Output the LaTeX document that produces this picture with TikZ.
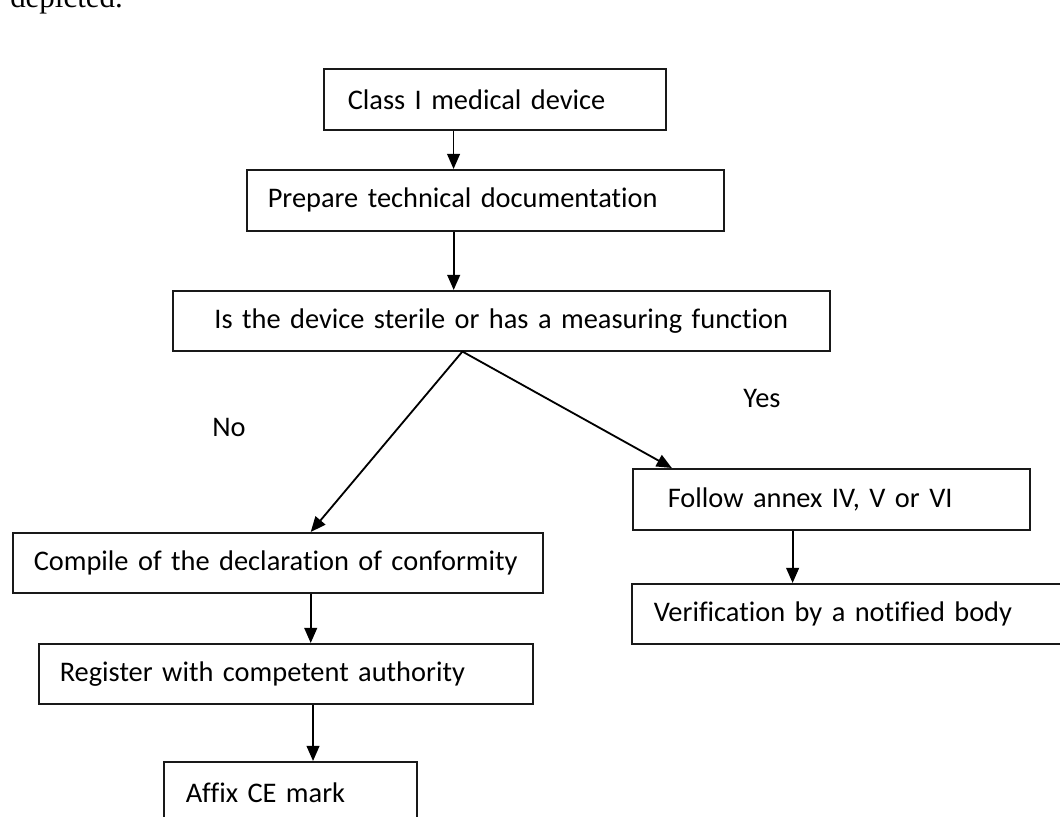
\documentclass[tikz,border=0pt]{standalone}
\usepackage{fontspec}
\setmainfont{Carlito}[Ligatures=NoCommon]
\newfontfamily\pageserif{Liberation Serif}
\usetikzlibrary{arrows.meta,positioning,calc}
\newcommand\boxfont{\fontsize{20.2}{24}\selectfont\hyphenpenalty=10000\relax}

\begin{document}
\begin{tikzpicture}[
  x=1cm, y=1cm,
  stepbox/.style={draw=black!90, line width=1.1pt, anchor=north west, align=left, inner xsep=0.525cm, inner ysep=0pt, minimum height=1.525cm, font=\boxfont},
  flow/.style={-{Triangle[length=0.38cm, width=0.32cm]}, draw=black, line width=1.3pt},
  branch/.style={font=\boxfont}
]
  \useasboundingbox (0,0) rectangle (26.5,20.4);
  \clip (0,0) rectangle (26.5,20.4);

  \node[font=\pageserif\fontsize{22}{26}\selectfont, anchor=base west, inner sep=0pt] (page) at (0.25,20.22) {depicted.};

  \node[stepbox, inner xsep=0.6cm, text width=7.35cm] (cls) at (8.075,18.7) {Class I medical device};
  \node[stepbox, text width=10.875cm] (tech) at (6.15,16.175) {Prepare technical documentation};
  \node[stepbox, align=center, text width=15.375cm, minimum height=1.5cm] (ask) at (4.3,13.15) {Is the device sterile or has a measuring function};

  \node[stepbox, inner xsep=0.875cm, text width=8.175cm] (annex) at (15.8,8.7) {Follow annex IV, V or VI};
  \node[stepbox, inner xsep=0.55cm, text width=10.0cm, minimum height=1.5cm] (verif) at (15.775,5.825) {Verification by a notified body};

  \node[stepbox, text width=12.2cm, minimum height=1.5cm] (decl) at (0.3,7.1) {Compile of the declaration of conformity};
  \node[stepbox, text width=11.3cm, minimum height=1.5cm] (reg) at (0.95,4.325) {Register with competent authority};
  \node[stepbox, inner xsep=0.55cm, text width=5.225cm] (mark) at (4.075,1.375) {Affix CE mark};

  \node[branch] (no) at (5.725,9.725) {No};
  \node[branch] (yes) at (19.05,10.45) {Yes};

  \draw[flow] ($(cls.south west)!0.38!(cls.south east)$) coordinate (t1) -- (t1 |- tech.north);
  \draw[flow] ($(tech.south west)!0.434!(tech.south east)$) coordinate (t2) -- (t2 |- ask.north);
  \coordinate (apex) at ($(ask.south west)!0.441!(ask.south east)$);
  \draw[flow] (apex) -- ($(decl.north west)!0.562!(decl.north east)$);
  \draw[flow] (apex) -- ($(annex.north west)!0.10!(annex.north east)$);
  \draw[flow] ($(annex.south west)!0.403!(annex.south east)$) coordinate (t3) -- (t3 |- verif.north);
  \draw[flow] ($(decl.south west)!0.562!(decl.south east)$) coordinate (t4) -- (t4 |- reg.north);
  \draw[flow] ($(reg.south west)!0.555!(reg.south east)$) coordinate (t5) -- (t5 |- mark.north);
\end{tikzpicture}
\end{document}
